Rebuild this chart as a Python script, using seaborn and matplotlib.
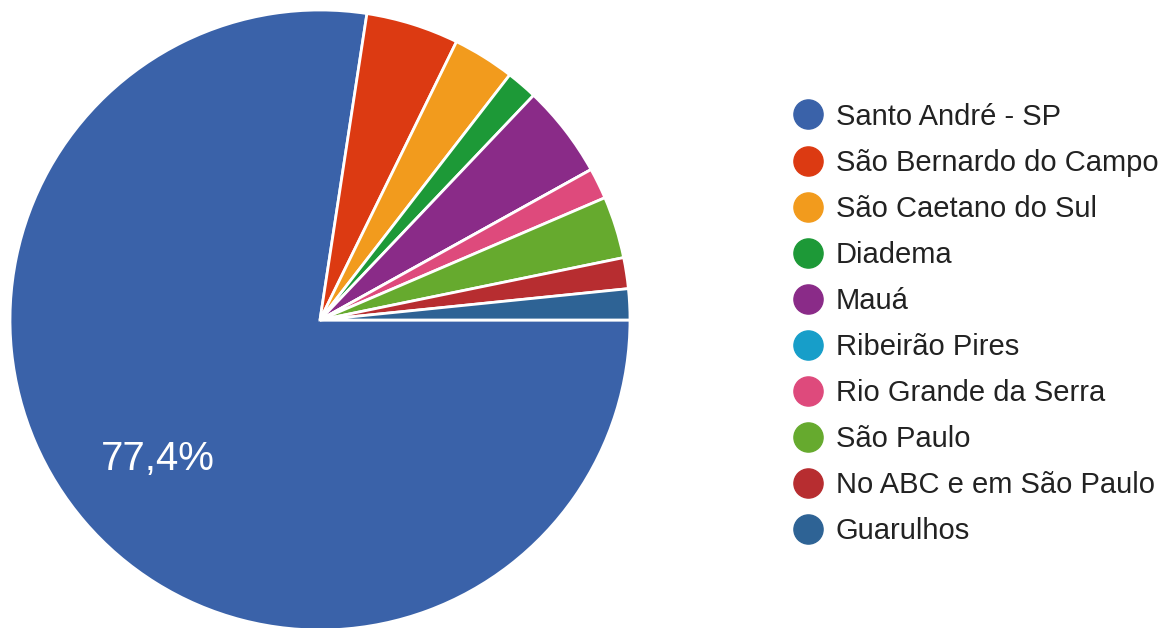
import seaborn as sns
import matplotlib.pyplot as plt
from matplotlib.lines import Line2D

cidades = ["Santo André - SP", "São Bernardo do Campo", "São Caetano do Sul", "Diadema",
           "Mauá", "Ribeirão Pires", "Rio Grande da Serra", "São Paulo",
           "No ABC e em São Paulo", "Guarulhos"]
respostas = [48, 3, 2, 1, 3, 0, 1, 2, 1, 1]
cores = ["#3a62a9", "#dc3a12", "#f29b1d", "#1d9937", "#8a2b88",
         "#179ec9", "#de4a7c", "#66aa2e", "#b72d30", "#2e6395"]

sns.set_theme(style="white")
plt.rcParams['font.family'] = ['Liberation Sans', 'DejaVu Sans']

fig = plt.figure(figsize=(11.59, 6.28), dpi=100)
ax = fig.add_axes([10 / 1159, -2 / 628, 620 / 1159, 620 / 628])

def rotulo(pct):
    if pct < 10:
        return ""
    return f"{pct:.1f}".replace(".", ",") + "%"

wedges, textos, autotextos = ax.pie(respostas, colors=sns.color_palette(cores),
                                    startangle=0, counterclock=False,
                                    autopct=rotulo, pctdistance=0.69,
                                    wedgeprops=dict(edgecolor="white", linewidth=2),
                                    textprops=dict(color="white", fontsize=29))
ax.set_xlim(-1, 1)
ax.set_ylim(-1, 1)
ax.set_aspect("equal")

handles = [Line2D([], [], marker="o", linestyle="", markersize=21,
                  markerfacecolor=c, markeredgecolor=c) for c in cores]
fig.legend(handles, cidades, loc="center left", bbox_to_anchor=(776 / 1159, 0.484),
           frameon=False, fontsize=21, labelspacing=0.62, handletextpad=0.34,
           handlelength=1.2, borderpad=0, labelcolor="#222222")

fig.savefig("out.png", dpi=100)
